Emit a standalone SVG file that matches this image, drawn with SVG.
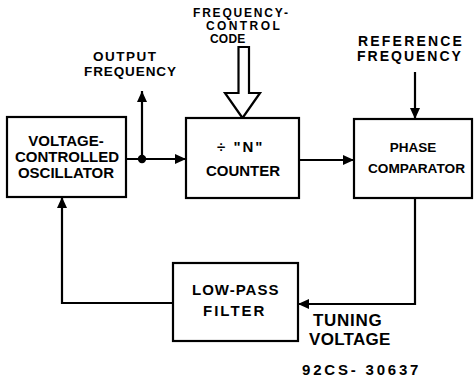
<svg xmlns="http://www.w3.org/2000/svg" width="475" height="381" viewBox="0 0 475 381">
<style>
.box{fill:#fff;stroke:#000;stroke-width:2.2}
.ln{fill:none;stroke:#000;stroke-width:2.2}
text{font-family:"Liberation Sans",Arial,sans-serif;font-weight:bold;fill:#000}
.m{text-anchor:middle}
</style>
<defs>
<marker id="ah" markerUnits="userSpaceOnUse" markerWidth="11" markerHeight="10" refX="11" refY="5" orient="auto">
<path d="M0,0 L11,5 L0,10 Z" fill="#000"/>
</marker>
</defs>
<rect width="475" height="381" fill="#fff"/>
<g id="connectors">
<line class="ln" x1="126" y1="159" x2="186" y2="159" marker-end="url(#ah)"/>
<line class="ln" x1="142" y1="159" x2="142" y2="91" marker-end="url(#ah)"/>
<circle cx="142" cy="159" r="4.2" fill="#000"/>
<line class="ln" x1="299" y1="160" x2="354" y2="160" marker-end="url(#ah)"/>
<line class="ln" x1="415" y1="72" x2="415" y2="119" marker-end="url(#ah)"/>
<polyline class="ln" points="415,198 415,304 298,304" marker-end="url(#ah)"/>
<polyline class="ln" points="173,303 62,303 62,197" marker-end="url(#ah)"/>
<polygon points="238.5,47 238.5,93 225,93 242.5,118 260,93 249,93 249,47" fill="#fff" stroke="#000" stroke-width="2.2" stroke-linejoin="miter"/>
</g>
<g id="vco">
<rect class="box" x="7" y="117" width="119" height="80"/>
<text class="m" x="66" y="146" font-size="15">VOLTAGE-</text>
<text class="m" x="67" y="162" font-size="15">CONTROLLED</text>
<text class="m" x="66" y="178" font-size="15">OSCILLATOR</text>
</g>
<g id="counter">
<rect class="box" x="186" y="118" width="113" height="80"/>
<text x="217" y="152" font-size="15" letter-spacing="2">÷ "N"</text>
<text class="m" x="243" y="176" font-size="15">COUNTER</text>
</g>
<g id="phase">
<rect class="box" x="354" y="119" width="118" height="79"/>
<text class="m" x="413" y="152" font-size="13.5">PHASE</text>
<text x="368" y="173" font-size="13.5" textLength="97" lengthAdjust="spacingAndGlyphs">COMPARATOR</text>
</g>
<g id="lpf">
<rect class="box" x="173" y="263" width="125" height="78"/>
<text x="192" y="295" font-size="15" letter-spacing="1">LOW-PASS</text>
<text x="203" y="316" font-size="15" letter-spacing="2">FILTER</text>
</g>
<g id="labels">
<text x="93" y="61" font-size="13.5" letter-spacing="1.5">OUTPUT</text>
<text x="84" y="76" font-size="13.5" letter-spacing="0.9">FREQUENCY</text>
<text x="193" y="17" font-size="12" letter-spacing="1.8">FREQUENCY-</text>
<text x="206" y="30" font-size="12" letter-spacing="2.4">CONTROL</text>
<text x="210" y="43" font-size="12" letter-spacing="0.2">CODE</text>
<text x="358" y="46" font-size="14" letter-spacing="2.2">REFERENCE</text>
<text x="357" y="61" font-size="14" letter-spacing="2">FREQUENCY</text>
<text x="313" y="326" font-size="17" letter-spacing="0.7">TUNING</text>
<text x="309" y="345" font-size="17" letter-spacing="0.3">VOLTAGE</text>
<text x="302" y="375" font-size="15" letter-spacing="2.8">92CS- 30637</text>
</g>
</svg>
